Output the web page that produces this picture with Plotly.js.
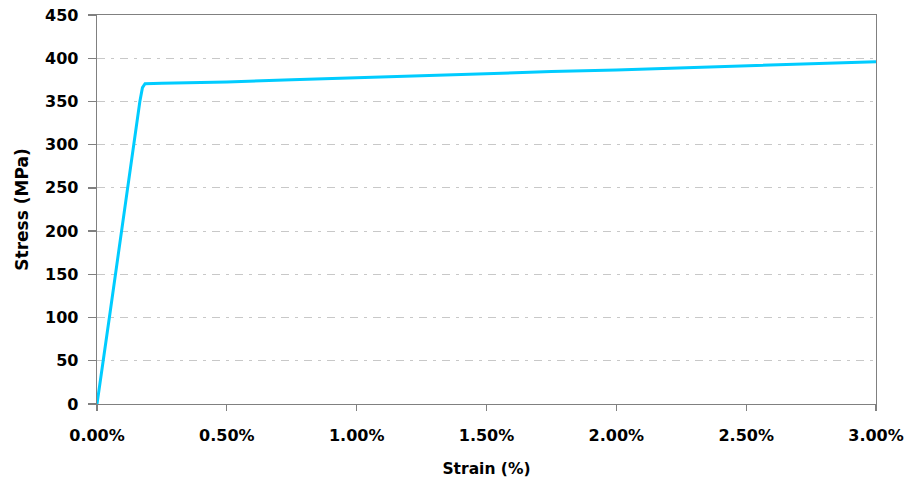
<!DOCTYPE html>
<html>
<head>
<meta charset="utf-8">
<script src="https://cdn.plot.ly/plotly-3.0.1.min.js"></script>
<style>html,body{margin:0;padding:0;background:#fff;}#chart{width:920px;height:482px;}</style>
</head>
<body>
<div id="chart"></div>
<script>
// Strain (%) and Stress (MPa)
const strain = [0, 0.005, 0.02, 0.05, 0.10, 0.15, 0.165, 0.175, 0.185, 0.25, 0.50, 0.75, 1.00, 1.25, 1.50, 1.75, 2.00, 2.25, 2.50, 2.75, 3.00];
const stress = [0, 12, 42, 105, 212, 318, 350, 366, 370.5, 371, 372.5, 375, 377.5, 380, 382, 384.5, 386.5, 389, 391.5, 393.5, 396];
const xTicks = [0, 0.5, 1.0, 1.5, 2.0, 2.5, 3.0];
const yTicks = [0, 50, 100, 150, 200, 250, 300, 350, 400, 450];

const tickFont = {family: 'DejaVu Sans', size: 16, color: '#000', weight: 'bold'};

Plotly.newPlot('chart', [{
  x: strain, y: stress, type: 'scatter', mode: 'lines',
  line: {color: '#00CCFF', width: 3}, hoverinfo: 'skip'
}], {
  width: 920, height: 482,
  margin: {l: 97, r: 44, t: 15, b: 78, pad: 0},
  paper_bgcolor: '#fff', plot_bgcolor: '#fff',
  showlegend: false,
  xaxis: {
    range: [0, 3], tickvals: xTicks, ticktext: xTicks.map(v => v.toFixed(2) + '%'),
    showgrid: false, zeroline: false,
    showline: true, linecolor: '#808080', linewidth: 1.3, mirror: true,
    ticks: 'outside', ticklen: 6, tickcolor: '#808080', tickwidth: 1.3,
    tickfont: tickFont, ticklabelstandoff: 10,
    title: {text: 'Strain (%)', font: {family: 'DejaVu Sans', size: 15.5, color: '#000', weight: 'bold'}, standoff: 19}
  },
  yaxis: {
    range: [0, 450], tickvals: yTicks,
    showgrid: true, gridcolor: '#c8c8c8', gridwidth: 1.2, griddash: '8px,6px,3px,6px',
    zeroline: false,
    showline: true, linecolor: '#808080', linewidth: 1.3, mirror: true,
    ticks: 'outside', ticklen: 8, tickcolor: '#808080', tickwidth: 1.3,
    tickfont: tickFont, ticklabelstandoff: 6,
    title: {text: 'Stress (MPa)', font: {family: 'DejaVu Sans', size: 17, color: '#000', weight: 'bold'}, standoff: 12}
  }
}, {staticPlot: true, displayModeBar: false});
</script>
</body>
</html>
